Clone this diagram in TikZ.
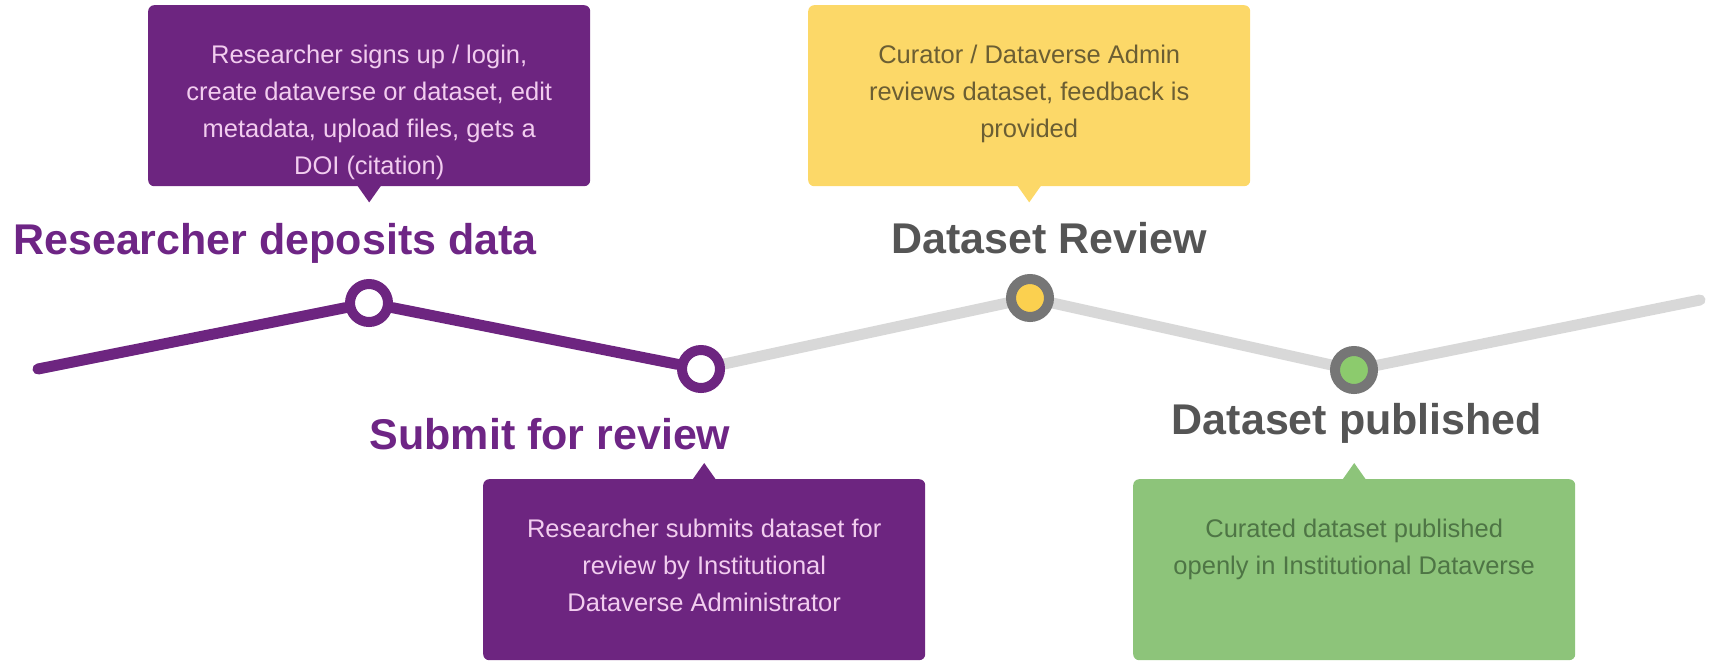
\documentclass[tikz,border=0pt]{standalone}
\usepackage{fontspec}
\setmainfont{Liberation Sans}
\usetikzlibrary{calc,backgrounds}
\definecolor{purp}{HTML}{6D2580}
\definecolor{purptext}{HTML}{F2CDEF}
\definecolor{purphead}{HTML}{6E2585}
\definecolor{yel}{HTML}{FCD868}
\definecolor{yeltext}{HTML}{6B5E33}
\definecolor{grn}{HTML}{8DC47A}
\definecolor{grntext}{HTML}{4E7545}
\definecolor{greyhead}{HTML}{555555}
\definecolor{greyline}{HTML}{D8D8D8}
\definecolor{greyring}{HTML}{767676}
\definecolor{dotyel}{HTML}{FBD04F}
\definecolor{dotgrn}{HTML}{8CCB6D}
\begin{document}
\begin{tikzpicture}[x=1pt,y=-1pt,
  callout/.style={draw=none, rounded corners=6pt, minimum width=442pt, minimum height=181pt, inner sep=0pt, anchor=north west},
  boxtext/.style={anchor=north, align=center, inner sep=0pt, font=\fontsize{25.5}{37}\selectfont},
  head/.style={anchor=base, inner sep=0pt, font=\fontsize{43}{50}\selectfont\bfseries},
  dot/.style={circle, line width=10pt, minimum size=38pt, inner sep=0pt},
  pline/.style={draw=purp, line width=11pt, line cap=round},
  gline/.style={draw=greyline, line width=11pt, line cap=round},
]
\useasboundingbox (0,0) rectangle (1713,661);

% timeline dots
\node[dot, draw=purp, fill=white] (c1) at (369,303) {};
\node[dot, draw=purp, fill=white] (c2) at (701,369) {};
\node[dot, draw=greyring, fill=dotyel] (c3) at (1030,298) {};
\node[dot, draw=greyring, fill=dotgrn] (c4) at (1354,370) {};
\coordinate (s) at (38,369);
\coordinate (e) at (1700,300);

\begin{scope}[on background layer]
  \draw[pline] (s) -- (c1);
  \draw[pline] (c1) -- (c2);
  \draw[gline] (c2) -- (c3);
  \draw[gline] (c3) -- (c4);
  \draw[gline] (c4) -- (e);
\end{scope}

% callout boxes
\node[callout, fill=purp] (b1) at (148,5) {};
\fill[purp] ($(b1.south)+(-12,-1)$) -- ($(b1.south)+(0,16)$) -- ($(b1.south)+(12,-1)$) -- cycle;
\node[callout, fill=yel] (b2) at (808,5) {};
\fill[yel] ($(b2.south)+(-12,-1)$) -- ($(b2.south)+(0,16)$) -- ($(b2.south)+(12,-1)$) -- cycle;
\node[callout, fill=purp] (b3) at (483,479) {};
\fill[purp] ($(b3.north)+(-12,1)$) -- ($(b3.north)+(0,-16)$) -- ($(b3.north)+(12,1)$) -- cycle;
\node[callout, fill=grn] (b4) at (1133,479) {};
\fill[grn] ($(b4.north)+(-12,1)$) -- ($(b4.north)+(0,-16)$) -- ($(b4.north)+(12,1)$) -- cycle;

\node[boxtext, text=purptext] (t1) at ($(b1.north)+(0,40)$) {Researcher signs up / login,\\ create dataverse or dataset, edit\\ metadata, upload files, gets a\\ DOI (citation)};
\node[boxtext, text=yeltext] (t2) at ($(b2.north)+(0,40)$) {Curator / Dataverse Admin\\ reviews dataset, feedback is\\ provided};
\node[boxtext, text=purptext] (t3) at ($(b3.north)+(0,40)$) {Researcher submits dataset for\\ review by Institutional\\ Dataverse Administrator};
\node[boxtext, text=grntext] (t4) at ($(b4.north)+(0,40)$) {Curated dataset published\\ openly in Institutional Dataverse};

% headings
\node[head, text=purphead] (h1) at (275,254) {Researcher deposits data};
\node[head, text=greyhead] (h2) at (1049,253) {Dataset Review};
\node[head, text=purphead] (h3) at (550,449) {Submit for review};
\node[head, text=greyhead] (h4) at (1357,434) {Dataset published};
\end{tikzpicture}
\end{document}
